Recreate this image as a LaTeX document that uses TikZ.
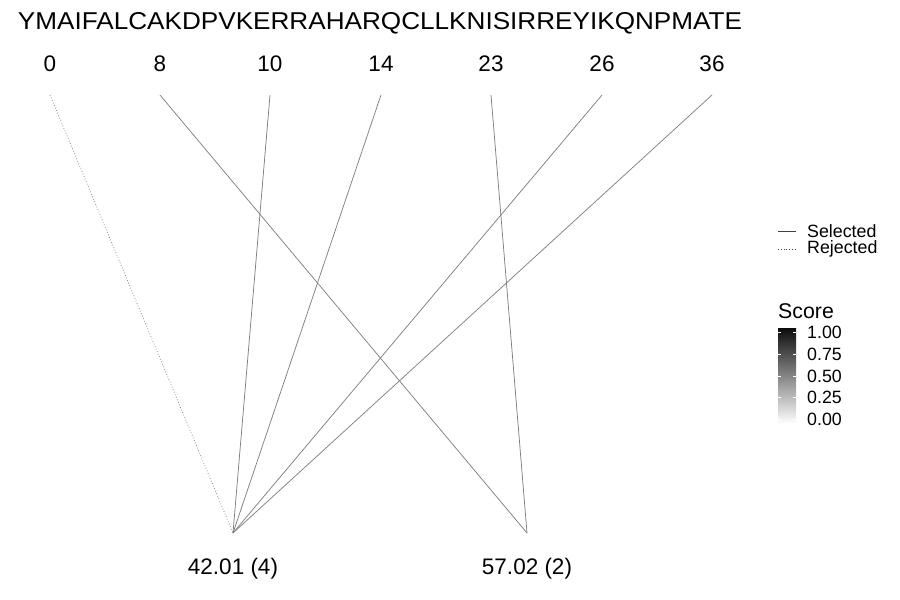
\documentclass[tikz,border=0pt]{standalone}
\usepackage{fontspec}
\setmainfont{Liberation Sans}
\begin{document}
\begin{tikzpicture}[x=1pt,y=-1pt,
  conn/.style={draw=black!50, line width=0.75pt},
  rej/.style={conn, dotted},
  lbl/.style={font=\fontsize{22.5}{24}\selectfont, inner sep=0pt},
  leg/.style={font=\fontsize{17.8}{19}\selectfont, inner sep=0pt, anchor=west},
  pt/.style={inner sep=0pt, minimum size=0pt}]
\useasboundingbox (0,0) rectangle (900,600);
\node[inner sep=0pt, anchor=base] (seq) at (380,29.5) {\resizebox{724pt}{17pt}{YMAIFALCAKDPVKERRAHARQCLLKNISIRREYIKQNPMATE}};
% top labels
\foreach \n/\x in {0/50,8/160,10/270,14/381,23/491,26/602,36/712}{
  \node[lbl] (l\n) at (\x,64) {\n};
  \coordinate (t\n) at (\x,95);
}
% bottom nodes
\coordinate (b1) at (233,533);
\coordinate (b2) at (527,533);
\node[lbl] (lb1) at (233,569) {42.01 (4)};
\node[lbl] (lb2) at (527,569) {57.02 (2)};
% connectors
\draw[rej] (t0) -- (b1);
\draw[conn] (t8) -- (b2);
\draw[conn] (t10) -- (b1);
\draw[conn] (t14) -- (b1);
\draw[conn] (t23) -- (b2);
\draw[conn] (t26) -- (b1);
\draw[conn] (t36) -- (b1);
% legend
\coordinate (s1) at (778,231); \coordinate (s2) at (796,231);
\coordinate (r1) at (778,249); \coordinate (r2) at (796,249);
\draw[conn, draw=black!75] (s1) -- (s2);
\draw[rej, draw=black!75] (r1) -- (r2);
\node[leg] (sel) at (807,231) {Selected};
\node[leg] (rejl) at (807,249) {Rejected};
% colorbar
\node[font=\fontsize{21.3}{23}\selectfont, inner sep=0pt, anchor=west] (score) at (778,311) {Score};
\shade[top color=black!95, bottom color=white] (778,328) rectangle (796,424);
\foreach \v/\y in {1.00/332,0.75/354,0.50/376,0.25/397,0.00/419}{
  \draw[white, line width=0.5pt] (778,\y) -- (781,\y) (793,\y) -- (796,\y);
  \node[leg] at (807,\y) {\v};
}
\end{tikzpicture}
\end{document}
